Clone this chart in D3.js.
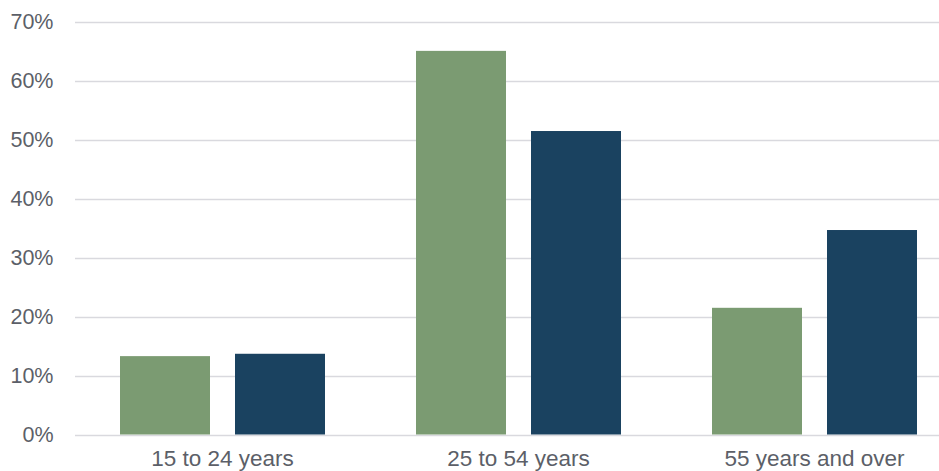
<!DOCTYPE html>
<html><head><meta charset="utf-8">
<script src="https://cdn.jsdelivr.net/npm/d3@7"></script>
<style>body{margin:0;background:#fff;overflow:hidden}</style>
</head><body>
<svg id="chart" width="939" height="471"></svg>
<script>
const categories = ["15 to 24 years", "25 to 54 years", "55 years and over"];
const seriesNames = ["Series A", "Series B"];
const seriesA = [13.3, 65.1, 21.5];
const seriesB = [13.7, 51.5, 34.7];
const yTicks = [0, 10, 20, 30, 40, 50, 60, 70];
const colors = ["#7b9b72", "#1a4260"];

const svg = d3.select("#chart");
const x0 = d3.scaleBand().domain(categories).range([74.5, 962.5]).paddingInner(0).paddingOuter(0);
const y = d3.scaleLinear().domain([0, 70]).range([434.5, 22]);
const x1 = d3.scaleBand().domain(seriesNames).range([45.5, 296 - 45.5]).paddingInner(25/115).paddingOuter(0);

// gridlines
svg.append("g").selectAll("line").data(yTicks).join("line")
  .attr("x1", 75).attr("x2", 939)
  .attr("y1", d => Math.round(y(d)) + 0.5).attr("y2", d => Math.round(y(d)) + 0.5)
  .attr("stroke", "#d9d9de").attr("stroke-width", 1.5);

const font = "Liberation Sans, Arial, sans-serif";
// y axis labels
const yAxis = d3.axisLeft(y).tickValues(yTicks).tickFormat(d => d + "%").tickSize(0).tickPadding(0);
const ya = svg.append("g").attr("transform", "translate(53.5,0)").call(yAxis);
ya.select(".domain").remove();
ya.selectAll("text").attr("font-family", font).attr("font-size", 21.5).attr("fill", "#5c5f68");

// bars
const data = categories.map((c, i) => ({c, vals: [seriesA[i], seriesB[i]]}));
const g = svg.append("g").selectAll("g").data(data).join("g")
  .attr("transform", d => `translate(${x0(d.c)},0)`);
g.selectAll("rect").data(d => d.vals.map((v, j) => ({v, s: seriesNames[j], j}))).join("rect")
  .attr("x", d => x1(d.s)).attr("width", x1.bandwidth())
  .attr("y", d => y(d.v)).attr("height", d => y(0) - y(d.v))
  .attr("fill", d => colors[d.j]);

// x axis labels
const xAxis = d3.axisBottom(x0).tickSize(0).tickPadding(0);
const xa = svg.append("g").attr("transform", "translate(0,466)").call(xAxis);
xa.select(".domain").remove();
xa.selectAll("text").attr("dy", null).attr("font-family", font).attr("font-size", 22.5).attr("fill", "#5c5f68");
</script>
</body></html>
